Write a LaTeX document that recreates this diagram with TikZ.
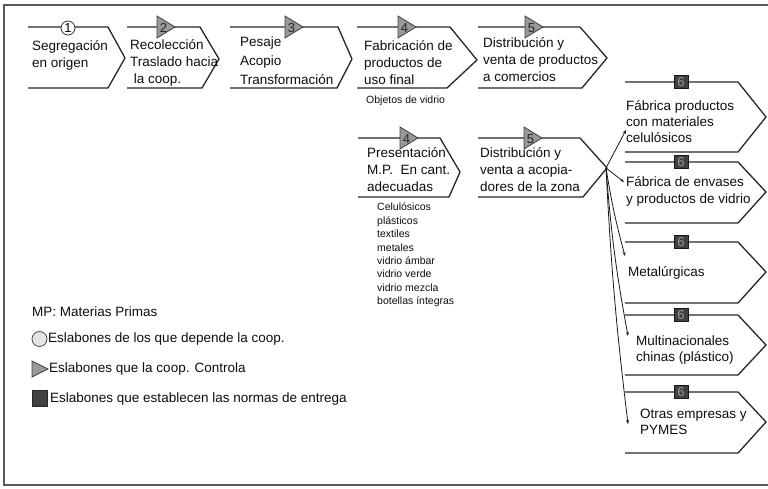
\documentclass[tikz,border=0pt]{standalone}
\usepackage{fontspec}
\setmainfont{Liberation Sans}
\usetikzlibrary{arrows.meta}
\newcommand\chevshape[7]{\draw[chev] (#1,#4) -- (#2,#4) -- (#6,#7) -- (#3,#5) -- (#1,#5);}
\begin{document}
\begin{tikzpicture}[x=1pt,y=-1pt,
  chev/.style={line width=1.3pt, draw=black!85, line join=miter},
  frame/.style={line width=2pt, draw=black!65},
  trimark/.style={fill=black!40, draw=black!75, line width=0.8pt},
  sqmark/.style={fill=black!75, draw=black!90, line width=0.7pt, minimum width=14pt, minimum height=13pt, inner sep=0pt, font=\fontsize{13}{13}\selectfont, text=black!40},
  circmark/.style={circle, fill=white, draw=black!80, line width=0.8pt, minimum size=14pt, inner sep=0pt, font=\fontsize{13}{13}\selectfont},
  num/.style={inner sep=0pt, font=\fontsize{13}{13}\selectfont, text=black!85},
  lbl/.style={inner sep=0pt, anchor=west, align=left, font=\fontsize{13.5}{17}\selectfont, text=black!95},
  small/.style={inner sep=0pt, anchor=west, align=left, font=\fontsize{10.5}{13.4}\selectfont, text=black!95},
  fanarrow/.style={line width=0.8pt, draw=black!90, -{Stealth[length=4pt,width=3pt]}}]
\useasboundingbox (0,0) rectangle (768,489);
% frame
\draw[frame] (800,5) -- (4,5) -- (4,485) -- (800,485);

% top row
\chevshape{28}{108}{108}{27}{88}{125}{58}
\chevshape{127}{200}{202}{27}{88}{219}{59}
\chevshape{230}{338}{337}{27}{88}{352}{59}
\chevshape{357}{450}{447}{27}{88}{477}{60}
\chevshape{478}{580}{582}{27}{88}{607}{58}
% second row
\chevshape{358}{440}{449}{138}{197}{460}{172}
\chevshape{478}{580}{583}{138}{197}{607}{168}
% right column
\chevshape{625}{738}{738}{82}{152}{766}{117}
\chevshape{625}{738}{738}{162}{223}{766}{192}
\chevshape{625}{738}{738}{242}{303}{766}{272}
\chevshape{625}{738}{738}{315}{375}{766}{345}
\chevshape{625}{738}{738}{392}{453}{766}{422}

% markers
\node[circmark] (m1) at (68,28) {1};
\draw[trimark] (157,16) -- (175,27) -- (157,38) -- cycle;
\node[num] (m2) at (163.5,28) {2};
\draw[trimark] (285,16) -- (303,27) -- (285,38) -- cycle;
\node[num] (m3) at (291.5,28) {3};
\draw[trimark] (398,16) -- (416,27) -- (398,38) -- cycle;
\node[num] (m4) at (404.5,28) {4};
\draw[trimark] (525,16) -- (543,27) -- (525,38) -- cycle;
\node[num] (m5) at (531.5,28) {5};
\draw[trimark] (400,127) -- (418,138) -- (400,149) -- cycle;
\node[num] (m4b) at (406.5,139) {4};
\draw[trimark] (524,127) -- (542,138) -- (524,149) -- cycle;
\node[num] (m5b) at (530.5,139) {5};
\node[sqmark] (s6a) at (681,82) {6};
\node[sqmark] (s6b) at (681,162) {6};
\node[sqmark] (s6c) at (681,242) {6};
\node[sqmark] (s6d) at (681,315) {6};
\node[sqmark] (s6e) at (681,392) {6};

% labels top row
\node[lbl] (t1) at (32,55) {Segregación\\en origen};
\node[lbl] (t2) at (130,63) {Recolección\\Traslado hacia\\\ la coop.};
\node[lbl, font=\fontsize{13.5}{19}\selectfont] (t3) at (240,61) {Pesaje\\Acopio\\Transformación};
\node[lbl] (t4) at (364,63) {Fabricación de\\productos de\\uso final};
\node[lbl] (t5) at (483,60) {Distribución y\\venta de productos\\a comercios};
\node[small] (obj) at (366,101) {Objetos de vidrio};

% second row labels
\node[lbl] (t4b) at (367,170) {Presentación\\M.P.\ \ En cant.\\adecuadas};
\node[lbl] (t5b) at (480,170) {Distribución y\\venta a acopia-\\dores de la zona};
\node[small] (list) at (377,255) {Celulósicos\\plásticos\\textiles\\metales\\vidrio ámbar\\vidrio verde\\vidrio mezcla\\botellas íntegras};

% right column labels
\node[lbl, font=\fontsize{13.5}{16}\selectfont] (r1) at (626,122) {Fábrica productos\\con materiales\\celulósicos};
\node[lbl] (r2) at (626,191) {Fábrica de envases\\y productos de vidrio};
\node[lbl] (r3) at (628,273) {Metalúrgicas};
\node[lbl, font=\fontsize{13.5}{16}\selectfont] (r4) at (636,350) {Multinacionales\\chinas (plástico)};
\node[lbl, font=\fontsize{13.5}{16}\selectfont] (r5) at (640,422) {Otras empresas y\\PYMES};

% fan of arrows
\coordinate (fan) at (606,168);
\coordinate (e1) at (626,130);
\coordinate (e2) at (624,182);
\coordinate (e3) at (625,256);
\coordinate (e4) at (628,336);
\coordinate (e5) at (628,424);
\draw[fanarrow] (fan) -- (e1);
\draw[fanarrow] (fan) -- (e2);
\draw[fanarrow] (fan) to[bend right=3] (e3);
\draw[fanarrow] (fan) to[bend right=3] (e4);
\draw[fanarrow] (fan) to[bend right=2] (e5);

% legend
\node[lbl] (mp) at (32,312) {MP: Materias Primas};
\node[circle, fill=black!10, draw=black!70, line width=0.8pt, minimum size=15pt, inner sep=0pt] (lc) at (39.5,339) {};
\node[lbl] (l1) at (48,339) {Eslabones de los que depende la coop.};
\draw[trimark] (32,361) -- (48,369) -- (32,377) -- cycle;
\node[lbl] (l2) at (49,369) {Eslabones que la coop. Controla};
\node[fill=black!75, draw=black!85, minimum width=15pt, minimum height=16pt, inner sep=0pt] (ls) at (39.5,398) {};
\node[lbl] (l3) at (50,399) {Eslabones que establecen las normas de entrega};
\end{tikzpicture}
\end{document}
